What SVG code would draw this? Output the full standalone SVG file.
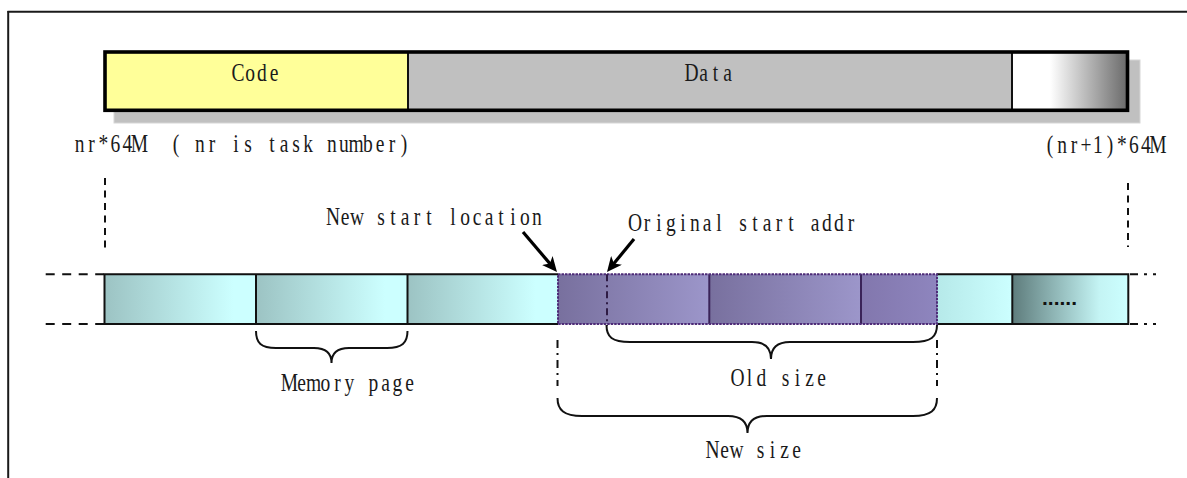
<svg xmlns="http://www.w3.org/2000/svg" width="1187" height="478" viewBox="0 0 1187 478">
<style>
.t{font-family:"Liberation Serif","Times New Roman",serif;font-size:26px;fill:#1a1a1a;text-anchor:middle;}
.ln{fill:none;stroke:#111;stroke-width:2;}
.br{fill:none;stroke:#111;stroke-width:2;}
.dv{stroke:#111;stroke-width:2;stroke-dasharray:7,5.5;fill:none;}
.dd{stroke:#111;stroke-width:2;stroke-dasharray:8,5,2,5;fill:none;}
.ar{stroke:#000;stroke-width:3.2;fill:none;}
</style>
<defs>
<linearGradient id="gTeal" x1="0" y1="0" x2="1" y2="0"><stop offset="0" stop-color="#9CC3C3"/><stop offset="0.85" stop-color="#CCFFFF"/><stop offset="1" stop-color="#CCFFFF"/></linearGradient>
<linearGradient id="gPur" x1="0" y1="0" x2="1" y2="0"><stop offset="0" stop-color="#78709E"/><stop offset="1" stop-color="#9C96CA"/></linearGradient>
<linearGradient id="gPur3" x1="0" y1="0" x2="1" y2="0"><stop offset="0" stop-color="#8277AD"/><stop offset="1" stop-color="#8E85BE"/></linearGradient>
<linearGradient id="gCy" x1="0" y1="0" x2="1" y2="0"><stop offset="0" stop-color="#B6E9E9"/><stop offset="1" stop-color="#CCFFFF"/></linearGradient>
<linearGradient id="gLast" x1="0" y1="0" x2="1" y2="0"><stop offset="0" stop-color="#5E7C7C"/><stop offset="0.75" stop-color="#C4F4F4"/><stop offset="1" stop-color="#CCFFFF"/></linearGradient>
<linearGradient id="gGray" x1="0" y1="0" x2="1" y2="0"><stop offset="0" stop-color="#FFFFFF"/><stop offset="0.33" stop-color="#FFFFFF"/><stop offset="1" stop-color="#6A6A6A"/></linearGradient>
<marker id="ah" markerUnits="userSpaceOnUse" markerWidth="16" markerHeight="14" refX="9" refY="7" orient="auto"><path d="M0,0 L15,7 L0,14 L4,7 z" fill="#000"/></marker>
</defs>

<g id="frame">
<line x1="7.5" y1="11.8" x2="1187" y2="11.8" stroke="#1a1a1a" stroke-width="2"/>
<line x1="8.2" y1="11" x2="8.2" y2="478" stroke="#1a1a1a" stroke-width="2"/>
</g>

<g id="address-space">
<rect x="114" y="60" width="1026" height="63" fill="#C0C0C0" stroke="#D6D6D6" stroke-width="1"/>
<rect x="105" y="52" width="303" height="58.3" fill="#FFFF99"/>
<rect x="408" y="52" width="604" height="58.3" fill="#C0C0C0"/>
<rect x="1012" y="52" width="115.5" height="58.3" fill="url(#gGray)"/>
<line x1="408" y1="52" x2="408" y2="110" stroke="#111" stroke-width="2"/>
<line x1="1012" y1="52" x2="1012" y2="110" stroke="#111" stroke-width="2"/>
<rect x="105" y="52" width="1022.5" height="58.3" fill="none" stroke="#000" stroke-width="3.6"/>
</g>

<g id="code"><text class="t" transform="translate(232,81) scale(0.75,1)" x="8 24 40 56" y="0">Code</text></g>
<g id="data"><text class="t" transform="translate(685.5,81) scale(0.75,1)" x="8 24 40 56" y="0">Data</text></g>
<g id="labels">
<text class="t" transform="translate(73.5,152) scale(0.75,1)" x="8 24 40 56 72 88" y="0">nr*64M</text>
<text class="t" transform="translate(170,152) scale(0.75,1)" x="8 24 40 56 72 88 104 120 136 152 168 184 200 216 232 248 264 280 296 312" y="0">( nr is task number)</text>
<text class="t" transform="translate(1044,153) scale(0.75,1)" x="8 24 40 56 72 88 104 120 136 152" y="0">(nr+1)*64M</text>
<text class="t" transform="translate(327,225) scale(0.75,1)" x="8 24 40 56 72 88 104 120 136 152 168 184 200 216 232 248 264 280" y="0">New start location</text>
<text class="t" transform="translate(629,231) scale(0.75,1)" x="8 24 40 56 72 88 104 120 136 152 168 184 200 216 232 248 264 280 296" y="0">Original start addr</text>
</g>

<g id="memory-pages">
<rect x="104.5" y="274.3" width="151.5" height="49.7" fill="url(#gTeal)"/>
<rect x="256" y="274.3" width="151.5" height="49.7" fill="url(#gTeal)"/>
<rect x="407.5" y="274.3" width="150.5" height="49.7" fill="url(#gTeal)"/>
<rect x="558" y="274.3" width="151.3" height="49.7" fill="url(#gPur)"/>
<rect x="709.3" y="274.3" width="151.7" height="49.7" fill="url(#gPur)"/>
<rect x="861" y="274.3" width="76" height="49.7" fill="url(#gPur3)"/>
<rect x="937" y="274.3" width="75.3" height="49.7" fill="url(#gCy)"/>
<rect x="1012.3" y="274.3" width="116" height="49.7" fill="url(#gLast)"/>
<polyline points="558,274.3 104.5,274.3 104.5,324 558,324" class="ln"/>
<polyline points="937,274.3 1128.3,274.3 1128.3,324 937,324" class="ln"/>
<line x1="256" y1="274.3" x2="256" y2="324" class="ln"/>
<line x1="407.5" y1="274.3" x2="407.5" y2="324" class="ln"/>
<line x1="1012.3" y1="274.3" x2="1012.3" y2="324" class="ln"/>
<line x1="709.3" y1="274.3" x2="709.3" y2="324" stroke="#3A2358" stroke-width="2"/>
<line x1="861" y1="274.3" x2="861" y2="324" stroke="#3A2358" stroke-width="2"/>
<rect x="558" y="274.3" width="379" height="49.7" fill="none" stroke="#4E2C78" stroke-width="2" stroke-dasharray="2.5,1"/>
<line x1="607" y1="274.3" x2="607" y2="326" stroke="#2E1B44" stroke-width="2" stroke-dasharray="7,4,2,4"/>
<text x="1042" y="305" font-family="'Liberation Sans',Arial,sans-serif" font-size="21" font-weight="bold" fill="#111">......</text>
</g>

<g id="connectors">
<line x1="105" y1="178" x2="105" y2="250" class="dv"/>
<line x1="1128" y1="183" x2="1128" y2="247" class="dv"/>
<line x1="45.7" y1="274.3" x2="104" y2="274.3" stroke="#111" stroke-width="2" stroke-dasharray="9,7.5"/>
<line x1="45.7" y1="324" x2="104" y2="324" stroke="#111" stroke-width="2" stroke-dasharray="9,7.5"/>
<line x1="1130" y1="274.3" x2="1156" y2="274.3" stroke="#111" stroke-width="2" stroke-dasharray="8,6,3,6"/>
<line x1="1130" y1="324" x2="1156" y2="324" stroke="#111" stroke-width="2" stroke-dasharray="8,6,3,6"/>
<line x1="523" y1="232" x2="553.1" y2="267.4" class="ar" marker-end="url(#ah)"/>
<line x1="634" y1="239" x2="610.8" y2="267.3" class="ar" marker-end="url(#ah)"/>
<line x1="557.5" y1="340" x2="557.5" y2="386" class="dd"/>
<line x1="937" y1="340" x2="937" y2="386" class="dd"/>
<path class="br" d="M256,331 C256,343 261,348 276,348 L314,348 C326,348 331.5,353 331.5,363 C331.5,353 337,348 349,348 L387,348 C402,348 407.5,343 407.5,331"/>
<path class="br" d="M606.5,325 C606.5,337 612,342 630,342 L752,342 C765,342 771,348 771,359 C771,348 777,342 790,342 L913,342 C931,342 937,337 937,325"/>
<path class="br" d="M557.5,398 C557.5,410 564,416 582,416 L728,416 C741,416 747.5,422 747.5,433 C747.5,422 754,416 767,416 L913,416 C931,416 937,410 937,398"/>
</g>

<g id="brace-labels">
<text class="t" transform="translate(283.5,391) scale(0.75,1)" x="8 24 40 56 72 88 104 120 136 152 168" y="0">Memory page</text>
<text class="t" transform="translate(731.5,386) scale(0.75,1)" x="8 24 40 56 72 88 104 120" y="0">Old size</text>
<text class="t" transform="translate(706.5,458) scale(0.75,1)" x="8 24 40 56 72 88 104 120" y="0">New size</text>
</g>
</svg>
